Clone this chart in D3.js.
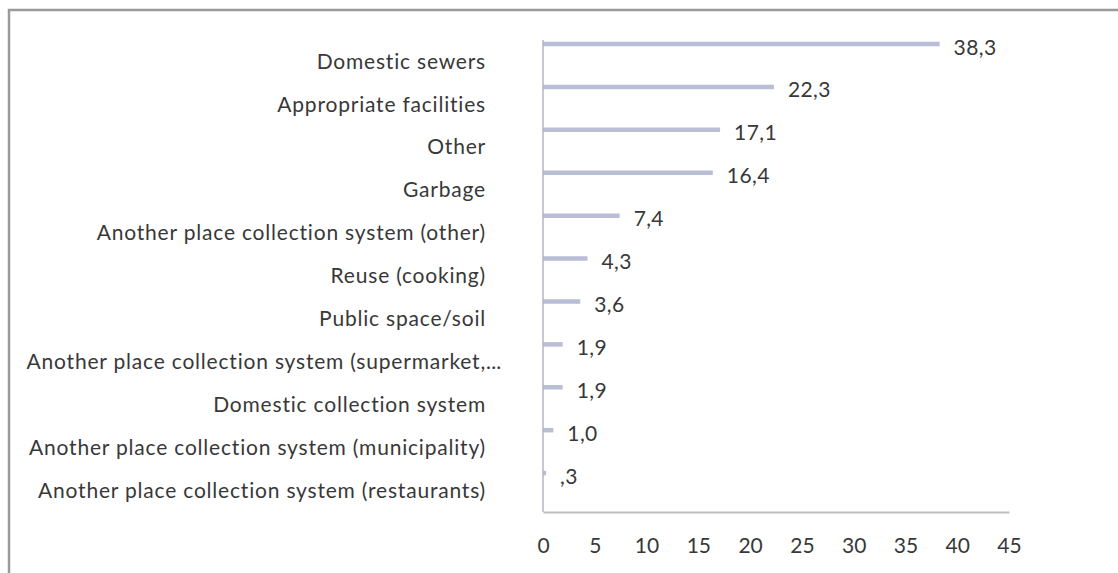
<!DOCTYPE html>
<html>
<head>
<meta charset="utf-8">
<script src="https://cdn.jsdelivr.net/npm/d3@7"></script>
<style>
  body { margin: 0; background: #fff; }
  svg text { font-family: Lato, "Open Sans", sans-serif; fill: #383838; }
</style>
</head>
<body>
<div id="wrapper"></div>
<script>
// data
const categories = [
  "Domestic sewers",
  "Appropriate facilities",
  "Other",
  "Garbage",
  "Another place collection system (other)",
  "Reuse (cooking)",
  "Public space/soil",
  "Another place collection system (supermarket,...",
  "Domestic collection system",
  "Another place collection system (municipality)",
  "Another place collection system (restaurants)"
]
const values = [38.3, 22.3, 17.1, 16.4, 7.4, 4.3, 3.6, 1.9, 1.9, 1.0, 0.3]
const xTicks = [0, 5, 10, 15, 20, 25, 30, 35, 40, 45]

function drawChart() {
  const dimensions = { width: 1118, height: 573 }
  const fontSize = "21px"
  const labelRight = 486

  const dataset = categories.map((c, i) => ({ name: c, value: values[i] }))

  const xScale = d3.scaleLinear()
    .domain([0, 45])
    .range([543, 1009])

  const yScale = d3.scaleBand()
    .domain(categories)
    .range([40, 512])

  // comma decimals, no leading zero (",3")
  const fmt = v => d3.format(".1f")(v).replace(".", ",").replace(/^0,/, ",")

  const svg = d3.select("#wrapper").append("svg")
    .attr("width", dimensions.width)
    .attr("height", dimensions.height)

  // outer frame (only left and top show)
  svg.append("rect")
    .attr("x", 9)
    .attr("y", 10)
    .attr("width", 1200)
    .attr("height", 700)
    .attr("fill", "none")
    .attr("stroke", "#9a9a9a")
    .attr("stroke-width", 2.5)

  // bars are thin, sitting near the top of each band
  const barOffset = 4
  svg.append("g")
    .selectAll("line")
    .data(dataset)
    .join("line")
      .attr("x1", xScale(0))
      .attr("x2", d => xScale(d.value))
      .attr("y1", d => yScale(d.name) + barOffset)
      .attr("y2", d => yScale(d.name) + barOffset)
      .attr("stroke", "#b9bdd5")
      .attr("stroke-width", 4.5)

  // value labels
  svg.append("g")
    .selectAll("text")
    .data(dataset)
    .join("text")
      .attr("x", d => xScale(d.value) + 14)
      .attr("y", d => yScale(d.name) + barOffset + 3)
      .attr("dy", "0.36em")
      .style("font-size", fontSize)
      .style("letter-spacing", "0.4px")
      .text(d => fmt(d.value))

  // category labels; a truncated label's "..." hangs past the right edge
  const catLabels = svg.append("g")
    .selectAll("g")
    .data(dataset)
    .join("g")
      .attr("transform", d => `translate(${labelRight},${yScale(d.name) + yScale.bandwidth() / 2})`)

  catLabels.append("text")
    .attr("dy", "0.34em")
    .attr("text-anchor", "end")
    .style("font-size", fontSize)
    .style("letter-spacing", "0.8px")
    .text(d => d.name.replace(/\.\.\.$/, ""))

  catLabels.filter(d => d.name.endsWith("..."))
    .append("text")
    .attr("dy", "0.34em")
    .style("font-size", fontSize)
    .style("letter-spacing", "0.2px")
    .text("...")

  // y axis line
  svg.append("line")
    .attr("x1", xScale(0)).attr("x2", xScale(0))
    .attr("y1", 40).attr("y2", 512)
    .attr("stroke", "#b3b6c6")
    .attr("stroke-width", 1.5)

  // x axis
  const xAxis = d3.axisBottom(xScale)
    .tickValues(xTicks)
    .tickSize(0)
    .tickPadding(26)

  const xg = svg.append("g")
    .attr("transform", "translate(0,512)")
    .call(xAxis)
  xg.select(".domain")
    .attr("stroke", "#bdbdbd")
    .attr("stroke-width", 2)
  xg.selectAll("text")
    .style("font-size", fontSize)
    .style("font-family", "Lato, sans-serif")
    .attr("fill", "#383838")
}
drawChart()
</script>
</body>
</html>
